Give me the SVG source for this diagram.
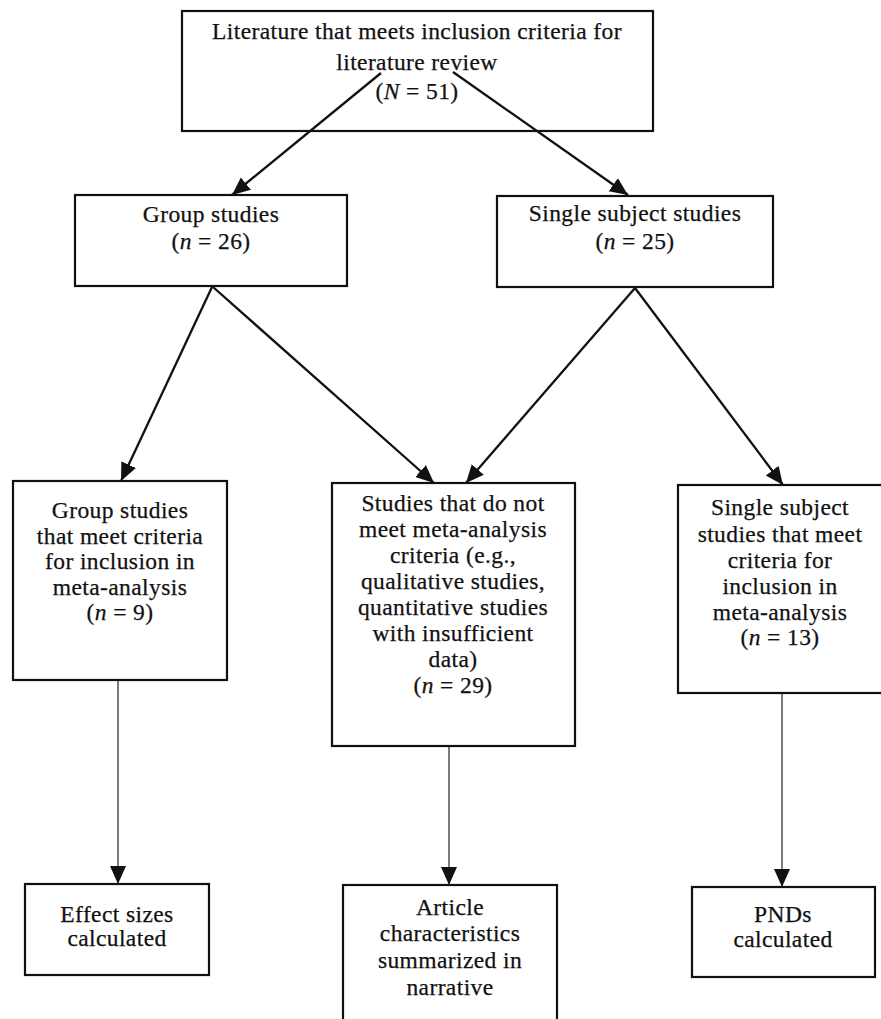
<svg xmlns="http://www.w3.org/2000/svg" width="881" height="1019" viewBox="0 0 881 1019">
<style>
.box{fill:#fff;stroke:#111;stroke-width:2.2}
.t{font-family:"Liberation Serif","Times New Roman",serif;font-size:23.5px;letter-spacing:0.4px;fill:#111;stroke:#111;stroke-width:0.25;text-anchor:middle}
.i{font-style:italic}
.arr{stroke:#111;stroke-width:2.3;fill:none;marker-end:url(#ah)}
.v{stroke:#222;stroke-width:1.2;fill:none;marker-end:url(#ah)}
</style>
<defs>
<marker id="ah" markerUnits="userSpaceOnUse" markerWidth="20" markerHeight="18" refX="18" refY="8" orient="auto">
<path d="M0,0 L18,8 L0,16 Z" fill="#111"/>
</marker>
</defs>
<rect width="881" height="1019" fill="#fff"/>
<g id="n-top">
<rect class="box" x="182" y="11" width="471" height="120"/>
<text class="t" x="417" y="39">Literature that meets inclusion criteria for</text>
<text class="t" x="417" y="70">literature review</text>
<text class="t" x="417" y="99">(<tspan class="i">N</tspan> = 51)</text>
</g>
<g id="n-group">
<rect class="box" x="75" y="195" width="272" height="91"/>
<text class="t" x="211" y="222">Group studies</text>
<text class="t" x="211" y="249">(<tspan class="i">n</tspan> = 26)</text>
</g>
<g id="n-single">
<rect class="box" x="497" y="196" width="276" height="91"/>
<text class="t" x="635" y="221">Single subject studies</text>
<text class="t" x="635" y="249">(<tspan class="i">n</tspan> = 25)</text>
</g>
<g id="n-group-meta">
<rect class="box" x="13" y="481" width="214" height="199"/>
<text class="t" x="120" y="518">Group studies</text>
<text class="t" x="120" y="544">that meet criteria</text>
<text class="t" x="120" y="569">for inclusion in</text>
<text class="t" x="120" y="595">meta-analysis</text>
<text class="t" x="120" y="620">(<tspan class="i">n</tspan> = 9)</text>
</g>
<g id="n-not-meta">
<rect class="box" x="332" y="483" width="243" height="263"/>
<text class="t" x="453" y="511">Studies that do not</text>
<text class="t" x="453" y="537">meet meta-analysis</text>
<text class="t" x="453" y="563">criteria (e.g.,</text>
<text class="t" x="453" y="589">qualitative studies,</text>
<text class="t" x="453" y="615">quantitative studies</text>
<text class="t" x="453" y="641">with insufficient</text>
<text class="t" x="453" y="667">data)</text>
<text class="t" x="453" y="693">(<tspan class="i">n</tspan> = 29)</text>
</g>
<g id="n-single-meta">
<rect class="box" x="678" y="485" width="210" height="208"/>
<text class="t" x="780" y="515">Single subject</text>
<text class="t" x="780" y="542">studies that meet</text>
<text class="t" x="780" y="568">criteria for</text>
<text class="t" x="780" y="594">inclusion in</text>
<text class="t" x="780" y="620">meta-analysis</text>
<text class="t" x="780" y="645">(<tspan class="i">n</tspan> = 13)</text>
</g>
<g id="n-effect">
<rect class="box" x="25" y="884" width="184" height="91"/>
<text class="t" x="117" y="922">Effect sizes</text>
<text class="t" x="117" y="946">calculated</text>
</g>
<g id="n-article">
<rect class="box" x="343" y="885" width="214" height="145"/>
<text class="t" x="450" y="915">Article</text>
<text class="t" x="450" y="941">characteristics</text>
<text class="t" x="450" y="968">summarized in</text>
<text class="t" x="450" y="995">narrative</text>
</g>
<g id="n-pnds">
<rect class="box" x="692" y="887" width="183" height="90"/>
<text class="t" x="783" y="922">PNDs</text>
<text class="t" x="783" y="947">calculated</text>
</g>
<g id="connectors">
<line class="arr" x1="381" y1="73" x2="232" y2="195"/>
<line class="arr" x1="453" y1="72" x2="628" y2="195"/>
<line class="arr" x1="212" y1="287" x2="121" y2="481"/>
<line class="arr" x1="213" y1="287" x2="434" y2="483"/>
<line class="arr" x1="635" y1="288" x2="466" y2="483"/>
<line class="arr" x1="635" y1="288" x2="783" y2="485"/>
<line class="v" x1="118" y1="681" x2="118" y2="884"/>
<line class="v" x1="449" y1="747" x2="449" y2="885"/>
<line class="v" x1="782" y1="694" x2="782" y2="887"/>
</g>
</svg>
